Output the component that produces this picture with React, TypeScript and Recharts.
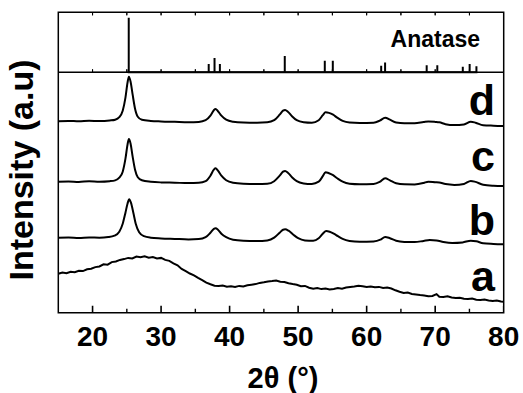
import React from "react";
import { LineChart, Line, XAxis, YAxis, ReferenceArea, ReferenceLine } from "recharts";

// ---------- data ----------
const majorTicks = [20, 30, 40, 50, 60, 70, 80];
const minorTicks = [25, 35, 45, 55, 65, 75];
const topTicks = [20, 25, 30, 35, 40, 45, 50, 55, 60, 65, 70, 75];

// Anatase reference pattern: [2theta, relative intensity]
const anatasePeaks: [number, number][] = [
  [25.28, 100], [36.95, 15], [37.8, 26], [38.58, 15], [48.05, 30],
  [53.89, 21], [55.06, 21], [62.12, 12], [62.69, 18], [68.76, 13],
  [70.31, 13], [74.03, 10], [75.03, 15], [76.02, 11],
];

const seriesD: [number, number][] = [
  [15, 191.5], [16.5, 191.8], [18, 191.4], [19.5, 192.0], [21, 191.6], [22.5, 192.2],
  [23.3, 193.0], [23.9, 195.5], [24.4, 202], [24.8, 215], [25.1, 230], [25.3, 236],
  [25.55, 231], [25.85, 218], [26.2, 204], [26.6, 196], [27.2, 193], [28.5, 191.8],
  [30, 191.3], [32, 190.9], [34, 190.5], [35.5, 190.8], [36.5, 192.5], [37.2, 197],
  [37.7, 202.5], [37.95, 203.7], [38.3, 201.5], [38.8, 197], [39.5, 193], [40.5, 191],
  [42, 190.2], [44, 190], [45.5, 190.4], [46.5, 192.5], [47.3, 198], [47.8, 202],
  [48.1, 202.7], [48.5, 201], [49.1, 196.5], [49.8, 192.5], [50.8, 190.5], [52, 190],
  [53, 192.5], [53.6, 197.5], [54.0, 200.4], [54.5, 199.8], [55.1, 198], [55.7, 195],
  [56.5, 191.8], [57.5, 190.2], [59, 189.8], [61, 190], [61.9, 192], [62.7, 195],
  [63.4, 193], [64.3, 190.2], [65.5, 189.4], [67, 189.5], [68.3, 190.6], [69, 191.2],
  [70, 190.8], [70.6, 190.4], [71.5, 188.5], [72.8, 187.6], [74.2, 188.3], [75.2, 191],
  [75.9, 190], [77, 187.5], [78.5, 187], [80, 186.7],
];

const seriesC: [number, number][] = [
  [15, 131], [16.5, 131.3], [18, 130.8], [19.5, 131.4], [21, 131], [22.5, 131.5],
  [23.3, 132.3], [23.9, 135], [24.4, 141], [24.8, 154], [25.1, 168], [25.3, 173.7],
  [25.55, 169], [25.85, 156], [26.2, 143], [26.6, 135.5], [27.2, 132.5], [28.5, 131],
  [30, 130.3], [32, 130], [34, 129.6], [35.5, 129.9], [36.5, 131.5], [37.2, 137],
  [37.7, 143], [37.95, 144.4], [38.3, 142], [38.8, 137], [39.5, 132.5], [40.5, 130],
  [42, 129], [44, 128.7], [45.5, 129], [46.5, 131.5], [47.3, 137], [47.8, 141],
  [48.1, 141.7], [48.5, 140], [49.1, 135.5], [49.8, 131.5], [50.8, 129.3], [52, 128.7],
  [53, 131], [53.6, 136.5], [54.0, 140.4], [54.5, 139.5], [55.1, 137.5], [55.7, 134.5],
  [56.5, 131], [57.5, 129], [59, 128.5], [61, 128.7], [61.9, 130.8], [62.7, 134.5],
  [63.4, 132.3], [64.3, 129.4], [65.5, 128.4], [67, 128.3], [68.3, 129.7], [69, 131],
  [70, 130.5], [70.6, 130.2], [71.5, 128.6], [72.8, 127.8], [74.2, 128.8], [75.2, 131.8],
  [75.9, 130.8], [77, 128], [78.5, 127], [80, 126.7],
];

const seriesB: [number, number][] = [
  [15, 75], [16.5, 75.2], [18, 74.8], [19.5, 75.3], [21, 75], [22.3, 75.6],
  [23.2, 77], [23.9, 81], [24.4, 89], [24.8, 100], [25.1, 109], [25.35, 113.4],
  [25.6, 110], [25.95, 100], [26.3, 89], [26.8, 80.5], [27.5, 76.5], [28.5, 75],
  [30, 74.3], [32, 73.8], [34, 73.3], [35.5, 73.6], [36.5, 75.5], [37.2, 80],
  [37.7, 83.8], [37.95, 84.4], [38.3, 83], [38.8, 79], [39.5, 75.5], [40.5, 73],
  [42, 72], [44, 71.7], [45.5, 72.3], [46.5, 75], [47.3, 80], [47.8, 83],
  [48.1, 83.4], [48.6, 82], [49.3, 78], [50, 74.5], [51, 72.3], [52.2, 72],
  [53, 74.5], [53.6, 79], [54.1, 81.7], [54.6, 81], [55.2, 79], [55.8, 76.5],
  [56.5, 73.8], [57.5, 71.8], [59, 71], [61, 71.3], [62, 73], [62.7, 75.8],
  [63.4, 74.5], [64.3, 72], [65.5, 70.8], [67, 70.6], [68.3, 71.8], [69.2, 72.7],
  [70.2, 72.3], [71.2, 70.8], [72.5, 69.8], [74, 70.3], [75.2, 72], [76, 71.4],
  [77, 69.5], [78.5, 68.8], [80, 68.4],
];

const seriesA: [number, number][] = [
  [15, 39.0], [15.6, 40.2], [16.2, 39.5], [16.8, 41.0], [17.4, 40.4], [18.0, 42.0],
  [18.6, 41.6], [19.2, 43.4], [19.8, 44.0], [20.4, 45.6], [21.0, 46.2], [21.6, 48.4],
  [22.2, 48.0], [22.8, 50.6], [23.4, 51.2], [24.0, 52.8], [24.6, 53.6], [25.2, 54.8],
  [25.8, 54.2], [26.4, 56.2], [27.0, 55.4], [27.6, 56.4], [28.2, 55.0], [28.8, 55.6],
  [29.4, 54.2], [30.0, 54.8], [30.6, 52.8], [31.2, 51.8], [31.8, 49.4], [32.4, 47.4],
  [33.0, 43.8], [33.6, 41.6], [34.2, 39.2], [34.8, 37.4], [35.4, 34.8], [36.0, 32.6],
  [36.6, 30.0], [37.2, 28.4], [37.8, 27.0], [38.4, 26.6], [39.0, 27.2], [39.6, 26.0],
  [40.2, 26.4], [40.8, 25.8], [41.4, 26.8], [42.0, 26.2], [42.6, 27.4], [43.2, 28.0],
  [43.8, 28.6], [44.4, 29.8], [45.0, 30.4], [45.6, 31.2], [46.2, 31.6], [46.8, 32.2],
  [47.4, 31.0], [48.0, 30.6], [48.6, 29.4], [49.2, 28.6], [49.8, 28.0], [50.4, 26.4],
  [51.0, 26.8], [51.6, 25.0], [52.2, 24.0], [52.8, 24.6], [53.4, 23.6], [54.0, 24.2],
  [54.6, 23.2], [55.2, 23.8], [55.8, 24.6], [56.4, 24.0], [57.0, 25.2], [57.6, 25.8],
  [58.2, 26.2], [58.8, 27.0], [59.4, 26.4], [60.0, 25.6], [60.6, 26.2], [61.2, 25.4],
  [61.8, 25.8], [62.4, 24.8], [63.0, 25.2], [63.6, 24.2], [64.2, 22.4], [64.8, 21.0],
  [65.4, 19.8], [66.0, 20.2], [66.6, 18.8], [67.2, 18.2], [67.8, 17.6], [68.4, 17.2],
  [69.0, 16.4], [69.6, 16.8], [70.2, 18.6], [70.6, 16.0], [71.2, 15.8], [71.8, 16.4],
  [72.4, 15.2], [73.0, 14.6], [73.6, 15.0], [74.2, 14.0], [74.8, 13.6], [75.4, 14.2],
  [76.0, 13.0], [76.6, 12.6], [77.2, 13.2], [77.8, 12.2], [78.4, 11.8], [79.0, 12.2],
  [79.6, 11.2], [80.0, 11.0],
];

const seriesLabels = [
  { name: "d", y: 115 },
  { name: "c", y: 171 },
  { name: "b", y: 235 },
  { name: "a", y: 291 },
];

// ---------- helpers ----------
// bottom-panel axis "m" is measured in px above the bottom frame; the full frame is 300.4 tall,
// the divider between the panels sits at 240.4.
const FRAME_TOP = 300.4;
const DIVIDER = 240.4;
const toRows = (arr: [number, number][]) => arr.map(([x, y]) => ({ x, y }));
const spikes = (xs: number[], base: number, len: number) =>
  xs.flatMap((x) => [
    { x, y: base },
    { x, y: base + len },
    { x, y: base },
  ]);
const stickRows = anatasePeaks.flatMap(([x, h]) => [
  { x, y: 0 },
  { x, y: h },
  { x, y: 0 },
]);

const FONT = "'Liberation Sans', Arial, Helvetica, sans-serif";

export default function App() {
  const W = 523;
  const H = 393;
  const tickLine = (data: { x: number; y: number }[], w: number) => (
    <Line xAxisId="b" yAxisId="m" data={data} dataKey="y" type="linear" stroke="#000" strokeWidth={w} dot={false} activeDot={false} isAnimationActive={false} />
  );
  return (
    <div style={{ position: "absolute", left: 0, top: 0, width: W, height: H, background: "#fff" }}>
      <LineChart width={W} height={H} margin={{ top: 12.3, right: 19.3, left: 58.3, bottom: 0 }}>
        <XAxis
          xAxisId="b"
          dataKey="x"
          type="number"
          domain={[15, 80]}
          ticks={majorTicks}
          allowDataOverflow
          height={80.3}
          axisLine={false}
          tickLine={false}
          tickSize={-7}
          tickMargin={20.4}
          tick={{ fill: "#000", fontFamily: FONT, fontWeight: "bold", fontSize: 28 }}
          interval={0}
        />
        <YAxis yAxisId="m" type="number" domain={[0, FRAME_TOP]} hide width={0} allowDataOverflow />
        <YAxis yAxisId="s" type="number" domain={[-440.7, 110]} hide width={0} allowDataOverflow />

        <ReferenceArea xAxisId="b" yAxisId="m" x1={15} x2={80} y1={0} y2={FRAME_TOP} fill="none" stroke="#000" strokeWidth={1.5} ifOverflow="visible" />
        <ReferenceLine xAxisId="b" yAxisId="s" y={0} stroke="#000" strokeWidth={1.5} />

        {tickLine(spikes(majorTicks, 0, 7), 1.6)}
        {tickLine(spikes(minorTicks, 0, 4), 1.4)}
        {tickLine(spikes(topTicks, FRAME_TOP, -3), 1)}
        {tickLine(spikes(topTicks, DIVIDER, 3), 1)}

        <Line xAxisId="b" yAxisId="s" data={stickRows} dataKey="y" type="linear" stroke="#000" strokeWidth={2} dot={false} isAnimationActive={false} />
        <Line xAxisId="b" yAxisId="m" data={toRows(seriesD)} dataKey="y" type="monotone" stroke="#000" strokeWidth={2} dot={false} isAnimationActive={false} />
        <Line xAxisId="b" yAxisId="m" data={toRows(seriesC)} dataKey="y" type="monotone" stroke="#000" strokeWidth={2} dot={false} isAnimationActive={false} />
        <Line xAxisId="b" yAxisId="m" data={toRows(seriesB)} dataKey="y" type="monotone" stroke="#000" strokeWidth={2} dot={false} isAnimationActive={false} />
        <Line xAxisId="b" yAxisId="m" data={toRows(seriesA)} dataKey="y" type="linear" stroke="#000" strokeWidth={2} dot={false} isAnimationActive={false} />
      </LineChart>
      <svg width={W} height={H} style={{ position: "absolute", left: 0, top: 0, pointerEvents: "none" }}>
        <text x={480} y={46.7} textAnchor="end" fontFamily={FONT} fontWeight="bold" fontSize={23} fill="#000">
          Anatase
        </text>
        {seriesLabels.map((s) => (
          <text key={s.name} x={495} y={s.y} textAnchor="end" fontFamily={FONT} fontWeight="bold" fontSize={43} fill="#000">
            {s.name}
          </text>
        ))}
        <text transform="translate(33,170) rotate(-90)" textAnchor="middle" fontFamily={FONT} fontWeight="bold" fontSize={34} fill="#000">
          Intensity (a.u)
        </text>
        <text x={283} y={388} textAnchor="middle" fontFamily={FONT} fontWeight="bold" fontSize={29} fill="#000">
          2θ (°)
        </text>
      </svg>
    </div>
  );
}
